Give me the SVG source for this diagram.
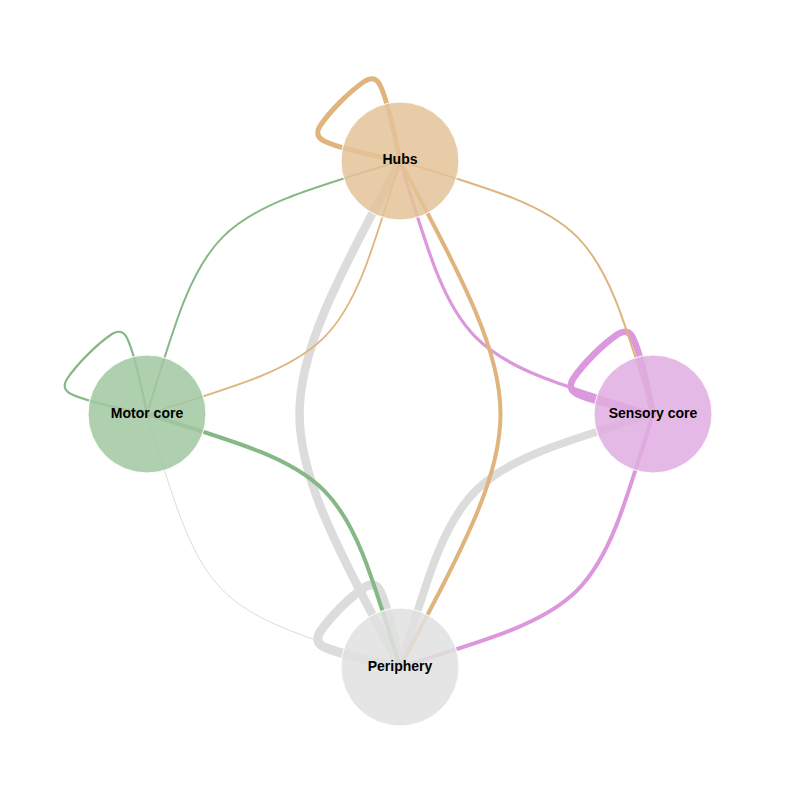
<svg xmlns="http://www.w3.org/2000/svg" width="800" height="800" viewBox="0 0 800 800">
<defs>
<style>
.edge{fill:none;stroke-linecap:round;stroke-linejoin:round}
.hub{stroke:#dfb47d}
.mot{stroke:#86b886}
.sen{stroke:#dc98dc}
.per{stroke:#dcdcdc}
.node circle{stroke:#ffffff;stroke-width:1;fill-opacity:0.85}
.node text{font-family:"Liberation Sans",Arial,sans-serif;font-weight:bold;font-size:14px;text-anchor:middle;fill:#000}
</style>
<path id="loop" d="M0,0 C-6,-30 -14,-64 -20,-76 Q-25,-86 -35,-80 C-50,-70 -70,-50 -80,-35 Q-86,-25 -76,-20 C-64,-14 -30,-6 0,0"/>
</defs>
<rect width="800" height="800" fill="#ffffff"/>
<g id="connectors">
<use href="#loop" class="edge per" stroke-width="9" transform="translate(400,667)"/>
<path class="edge per" stroke-width="8.5" d="M400,667 C266,414 266,414 400,161"/>
<path class="edge per" stroke-width="8" d="M400,667 C459,474 459,474 653,414"/>
<path class="edge per" stroke-width="1" d="M400,667 C206,607 206,607 147,414"/>
<use href="#loop" class="edge hub" stroke-width="5" transform="translate(400,161)"/>
<use href="#loop" class="edge mot" stroke-width="2.2" transform="translate(147,414)"/>
<use href="#loop" class="edge sen" stroke-width="6.5" transform="translate(653,414)"/>
<path class="edge mot" stroke-width="2" d="M147,414 C206,220 206,220 400,161"/>
<path class="edge hub" stroke-width="1.8" d="M400,161 C341,354 341,354 147,414"/>
<path class="edge hub" stroke-width="2" d="M400,161 C594,220 594,220 653,414"/>
<path class="edge sen" stroke-width="3.2" d="M653,414 C459,354 459,354 400,161"/>
<path class="edge hub" stroke-width="4" d="M400,161 C534,414 534,414 400,667"/>
<path class="edge mot" stroke-width="4" d="M147,414 C341,474 341,474 400,667"/>
<path class="edge sen" stroke-width="4" d="M653,414 C594,607 594,607 400,667"/>
</g>
<g id="node-hubs" class="node">
<circle cx="400" cy="161" r="59" fill="#e4c399"/>
<text x="400" y="164">Hubs</text>
</g>
<g id="node-motor" class="node">
<circle cx="147" cy="414" r="59" fill="#a1c8a0"/>
<text x="147" y="418">Motor core</text>
</g>
<g id="node-sensory" class="node">
<circle cx="653" cy="414" r="59" fill="#e1ade1"/>
<text x="653" y="418">Sensory core</text>
</g>
<g id="node-periphery" class="node">
<circle cx="400" cy="667" r="59" fill="#e0e0e0"/>
<text x="400" y="671">Periphery</text>
</g>
</svg>
